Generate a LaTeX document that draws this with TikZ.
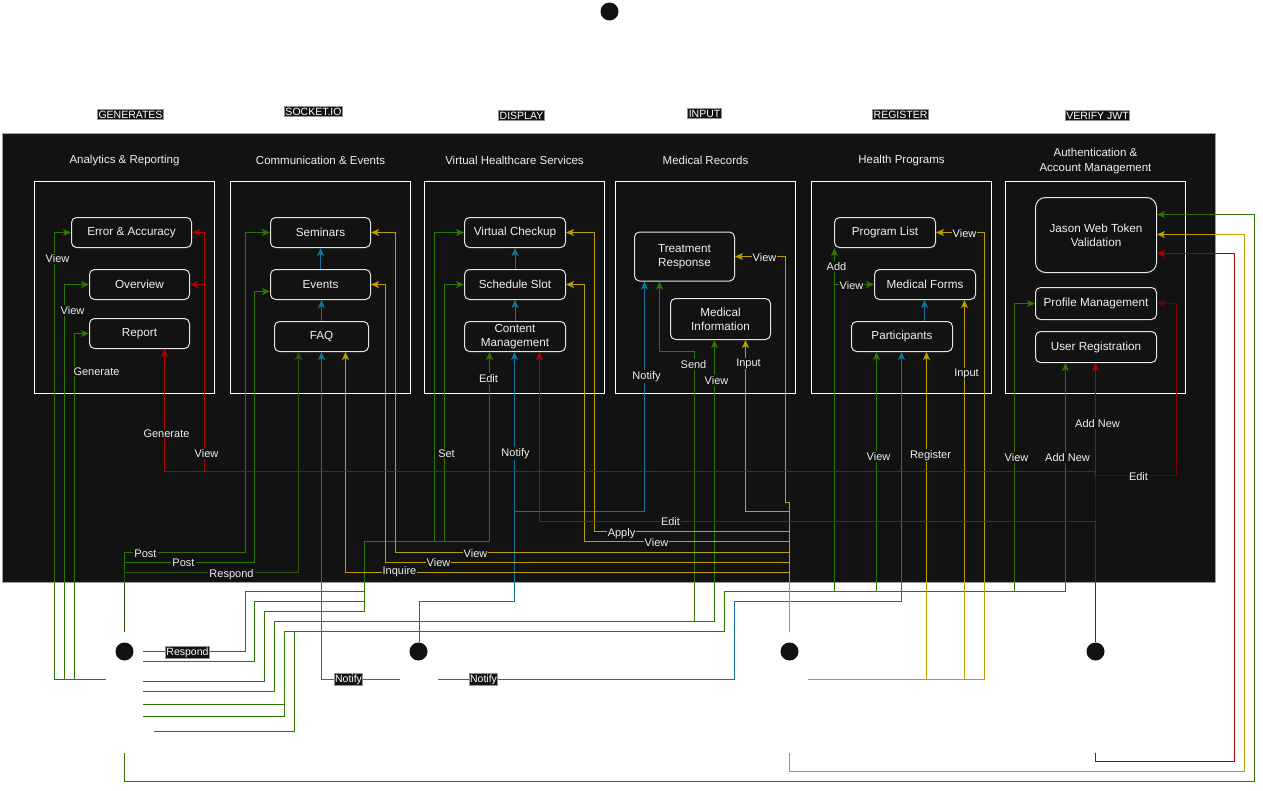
\documentclass[tikz,border=0pt]{standalone}
\usepackage{fontspec}
\setmainfont{Liberation Sans}
\usetikzlibrary{arrows.meta}
\definecolor{panel}{HTML}{121212}
\definecolor{gline}{HTML}{2D7600}
\definecolor{dgline}{HTML}{285512}
\definecolor{yline}{HTML}{BD9F00}
\definecolor{bline}{HTML}{10739E}
\definecolor{rline}{HTML}{B20000}
\definecolor{drline}{HTML}{760000}
\definecolor{txt}{HTML}{F0F0F0}
\begin{document}
\begin{tikzpicture}[x=1pt,y=-1pt,
  every node/.style={font=\fontsize{11.7}{14}\selectfont},
  grpbox/.style={draw=white, line width=1pt, minimum width=180pt, minimum height=212pt, inner sep=0pt},
  itembox/.style={draw=white!90!black, line width=1pt, rounded corners=5pt, fill=panel, text=txt,
    align=center, inner sep=0pt, minimum height=30pt, minimum width=101pt},
  grptitle/.style={text=txt, align=center, font=\fontsize{11.5}{15}\selectfont},
  edgelbl/.style={fill=panel, text=txt, inner sep=1pt, font=\fontsize{11}{12}\selectfont},
  toptag/.style={fill=panel, draw=gray!85, text=white, inner sep=1pt, line width=0.9pt,
    font=\fontsize{10.5}{12}\selectfont},
  conn/.style={line width=1pt, -{Stealth[length=8pt,width=7pt,inset=2pt]}},
  actorhead/.style={circle, fill=panel, minimum size=18pt, inner sep=0pt},
  actorport/.style={inner sep=0pt, minimum width=37pt},
]
\useasboundingbox (0,0) rectangle (1263,790);

% half-unit offset keeps the 1pt strokes on whole pixels
\begin{scope}[xshift=0.5pt,yshift=-0.5pt]

% dark service panel
\draw[fill=panel, draw=gray!75, line width=1.2pt] (2,133) rectangle (1215,582);

% top labels
\node[toptag] (tgen) at (130,114) {GENERATES};
\node[toptag] (tsock) at (313,111) {SOCKET.IO};
\node[toptag] (tdisp) at (521,115) {DISPLAY};
\node[toptag] (tin) at (704,113) {INPUT};
\node[toptag] (treg) at (900,114) {REGISTER};
\node[toptag] (tjwt) at (1097,115) {VERIFY JWT};

% service groups
\node[grpbox] (g1) at (124,287) {};
\node[grpbox] (g2) at (320,287) {};
\node[grpbox] (g3) at (514,287) {};
\node[grpbox] (g4) at (705,287) {};
\node[grpbox] (g5) at (901,287) {};
\node[grpbox] (g6) at (1095,287) {};
\node[grptitle] (tt1) at (124,160) {Analytics \& Reporting};
\node[grptitle] (tt2) at (320,160) {Communication \& Events};
\node[grptitle] (tt3) at (514,160) {Virtual Healthcare Services};
\node[grptitle] (tt4) at (705,160) {Medical Records};
\node[grptitle] (tt5) at (901,160) {Health Programs};
\node[grptitle] (tt6) at (1095,160.5) {Authentication \&\\Account Management};

% components
\node[itembox, minimum width=120pt] (err) at (131,232) {Error \& Accuracy};
\node[itembox, minimum width=100pt] (ov) at (139,284) {Overview};
\node[itembox, minimum width=100pt] (rep) at (139,333) {Report};
\node[itembox, minimum width=100pt] (sem) at (320,232) {Seminars};
\node[itembox, minimum width=100pt] (ev) at (320,284) {Events};
\node[itembox, minimum width=94pt] (faq) at (321,336) {FAQ};
\node[itembox] (vc) at (514.5,232) {Virtual Checkup};
\node[itembox] (ss) at (514.5,284) {Schedule Slot};
\node[itembox] (cm) at (514.5,336) {Content\\Management};
\node[itembox, minimum width=100pt, minimum height=49pt] (tr) at (684,256) {Treatment\\Response};
\node[itembox, minimum width=100pt, minimum height=41pt] (mi) at (720,318.5) {Medical\\Information};
\node[itembox] (pl) at (884.5,232) {Program List};
\node[itembox] (mf) at (924.5,284) {Medical Forms};
\node[itembox] (part) at (901.5,336) {Participants};
\node[itembox, minimum width=121pt, minimum height=75pt, rounded corners=10pt] (jwt) at (1095.5,234.5) {Jason Web Token\\Validation};
\node[itembox, minimum width=121pt, minimum height=32pt] (pm) at (1095.5,303) {Profile Management};
\node[itembox, minimum width=121pt, minimum height=31pt] (ur) at (1095.5,346.5) {User Registration};

% start marker and actors
\node[actorhead] (start) at (609,11) {};
\node[actorhead] (h1) at (124,651) {};
\node[actorhead] (h2) at (418,651) {};
\node[actorhead] (h3) at (789,651) {};
\node[actorhead] (h4) at (1095,651) {};
\node[actorport, minimum height=120pt] (A1) at (124,692) {};
\node[actorport, minimum height=110pt] (A2) at (418.5,697) {};
\node[actorport, minimum height=120pt] (A3) at (789,692) {};
\node[actorport, minimum height=110pt] (A4) at (1095,697) {};
\coordinate (a1p) at (153,731);

% green flows
\draw[conn,gline] (A1.west |- 0,679) -| (54,232) -- (err.west);
\draw[conn,gline] (A1.west |- 0,679) -| (64,284) -- (ov.west);
\draw[conn,gline] (A1.west |- 0,679) -| (74,333) -- (rep.west);
\draw[conn,gline] (A1.north) -- (124,552) -| (245,232) -- (sem.west);
\draw[conn,gline] (A1.north) -- (124,562) -| (254,291) -- (ev.west |- 0,291);
\draw[conn,dgline] (A1.north) -- (124,572) -| (faq.south -| 298,0);
\draw[conn,gline] (A1.east |- 0,651) -| (245,591) -| (364,541) -| (434,232) -- (vc.west);
\draw[conn,gline] (A1.east |- 0,661) -| (254,601) -| (364,541) -| (444,284) -- (ss.west);
\draw[conn,gline] (A1.east |- 0,681) -| (264,611) -| (364,541) -| (cm.south -| 489,0);
\draw[conn,gline] (A1.east |- 0,691) -| (274,621) -| (694,351) -| (tr.south -| 659,0);
\draw[conn,gline] (A1.east |- 0,691) -| (274,621) -| (mi.south -| 714,0);
\draw[conn,gline] (A1.east |- 0,704) -| (284,631) -| (724,591) -| (pl.south -| 834,0);
\draw[conn,gline] (A1.east |- 0,704) -| (284,631) -| (724,591) -| (834,284) -- (mf.west);
\draw[conn,gline] (A1.east |- 0,716) -| (284,631) -| (724,591) -| (part.south -| 876,0);
\draw[conn,gline] (a1p) -| (294,631) -| (724,591) -| (1014,303) -- (pm.west);
\draw[conn,gline] (a1p) -| (294,631) -| (724,591) -| (ur.south -| 1065,0);
\draw[conn,gline] (A1.south) |- (1254,781) |- (jwt.east |- 0,214);

% blue flows
\draw[conn,bline] (A2.north) |- (514,601) -- (cm.south -| 514,0);
\draw[conn,bline] (A2.north) |- (514,601) -- (514,511) -| (tr.south -| 644,0);
\draw[conn,bline] (A2.west |- 0,679) -| (faq.south -| 321,0);
\draw[conn,bline] (A2.east |- 0,679) -| (734,601) -| (part.south -| 901,0);
\draw[conn,bline] (faq.north) -- (ev.south -| faq.north);
\draw[conn,bline] (ev.north) -- (sem.south);
\draw[conn,bline] (cm.north) -- (ss.south);
\draw[conn,bline] (ss.north) -- (vc.south);
\draw[conn,bline] (part.north -| 924,0) -- (mf.south -| 924,0);

% yellow flows
\draw[conn,yline] (A3.north) -- (789,502) -| (785,256) -- (tr.east);
\draw[conn,yline] (A3.north) -- (789,511) -| (mi.south -| 745,0);
\draw[conn,yline] (A3.north) -- (789,531) -| (594,232) -- (vc.east);
\draw[conn,yline] (A3.north) -- (789,541) -| (584,284) -- (ss.east);
\draw[conn,yline] (A3.north) -- (789,552) -| (395,232) -- (sem.east);
\draw[conn,yline] (A3.north) -- (789,562) -| (385,284) -- (ev.east);
\draw[conn,yline] (A3.north) -- (789,572) -| (faq.south -| 345,0);
\draw[conn,yline] (A3.east |- 0,679) -| (part.south -| 926,0);
\draw[conn,yline] (A3.east |- 0,679) -| (mf.south -| 964,0);
\draw[conn,yline] (A3.east |- 0,679) -| (984,232) -- (pl.east);
\draw[conn,yline] (A3.south) |- (1244,771) |- (jwt.east |- 0,234);

% red flows
\draw[conn,rline] (A4.north) -- (1095,471) -| (rep.south -| 164,0);
\draw[conn,rline] (A4.north) -- (1095,471) -| (204,232) -- (err.east);
\draw[conn,rline] (A4.north) -- (1095,471) -| (204,284) -- (ov.east);
\draw[conn,rline] (A4.north) -- (ur.south -| 1095,0);
\draw[conn,drline] (A4.north) -- (1095,475) -| (1176,303) -- (pm.east);
\draw[conn,rline] (A4.north) -- (1095,521) -| (cm.south -| 539,0);
\draw[conn,rline] (A4.south) |- (1234,761) |- (jwt.east |- 0,253);

% flow labels
\node[edgelbl] (l01) at (57,258) {View};
\node[edgelbl] (l02) at (72,310) {View};
\node[edgelbl] (l03) at (96,371) {Generate};
\node[edgelbl] (l04) at (166,433) {Generate};
\node[edgelbl] (l05) at (206,453) {View};
\node[edgelbl] (l06) at (145,553) {Post};
\node[edgelbl] (l07) at (183,562) {Post};
\node[edgelbl] (l08) at (231,574) {Respond};
\node[edgelbl] (l09) at (446,453) {Set};
\node[edgelbl] (l10) at (515,453) {Notify};
\node[edgelbl] (l11) at (488,378) {Edit};
\node[edgelbl] (l12) at (646,376) {Notify};
\node[edgelbl] (l13) at (693,364) {Send};
\node[edgelbl] (l14) at (716,380) {View};
\node[edgelbl] (l15) at (748,363) {Input};
\node[edgelbl] (l16) at (764,257) {View};
\node[edgelbl] (l17) at (670,521) {Edit};
\node[edgelbl] (l18) at (621,533) {Apply};
\node[edgelbl] (l19) at (656,542) {View};
\node[edgelbl] (l20) at (475,553) {View};
\node[edgelbl] (l21) at (438,562) {View};
\node[edgelbl] (l22) at (399,571) {Inquire};
\node[edgelbl] (l23) at (964,233) {View};
\node[edgelbl] (l24) at (836,266) {Add};
\node[edgelbl] (l25) at (851,285) {View};
\node[edgelbl] (l26) at (966,373) {Input};
\node[edgelbl] (l27) at (878,456) {View};
\node[edgelbl] (l28) at (930,455) {Register};
\node[edgelbl] (l29) at (1016,457) {View};
\node[edgelbl] (l30) at (1067,457) {Add New};
\node[edgelbl] (l31) at (1097,423) {Add New};
\node[edgelbl] (l32) at (1138,476) {Edit};
\node[toptag] (l33) at (187,652) {Respond};
\node[toptag] (l34) at (348,679) {Notify};
\node[toptag] (l35) at (483,679) {Notify};
\end{scope}
\end{tikzpicture}
\end{document}
